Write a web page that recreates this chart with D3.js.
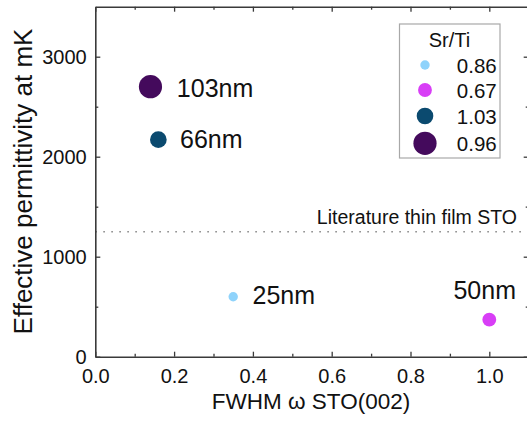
<!DOCTYPE html>
<html>
<head>
<meta charset="utf-8">
<script src="https://cdn.jsdelivr.net/npm/d3@7"></script>
<style>
  body { margin: 0; background: #fff; }
  svg text { font-family: Arial, "Liberation Sans", sans-serif; fill: #111; }
  .axis path, .axis line { stroke: #3a3a3a; }
</style>
</head>
<body>
<svg id="chart" width="527" height="427"></svg>
<script>
// values
var fwhm = [0.14, 0.16, 0.35, 1.0];
var permittivity = [2700, 2170, 600, 370];
var thickness = [103, 66, 25, 50];
var srTi = ["0.96", "1.03", "0.86", "0.67"];
var pointLabels = ["103nm", "66nm", "25nm", "50nm"];
var legendOrder = ["0.86", "0.67", "1.03", "0.96"];
var legendColors = ["#8fd3fb", "#d83ef6", "#0b4a6f", "#440a5c"];
var literatureValue = 1250;
var xMajor = [0, 0.2, 0.4, 0.6, 0.8, 1.0];
var xMinor = [0.1, 0.3, 0.5, 0.7, 0.9];
var yMajor = [0, 1000, 2000, 3000];
var yMinor = [500, 1500, 2500];

var svg = d3.select("#chart");
var margin = {top: 6.7, left: 95.3},
  width = 433.4,
  height = 350;

var x = d3.scaleLinear().domain([0, 1.1]).range([0, width]);
var y = d3.scaleLinear().domain([0, 3500]).range([height, 0]);
var r = d3.scaleLinear().domain([25, 103]).range([4.7, 11.6]);
var color = d3.scaleOrdinal().domain(legendOrder).range(legendColors);

var g = svg.append("g").attr("transform", "translate(" + margin.left + "," + margin.top + ")");

// literature reference line
g.append("line")
  .attr("x1", 0).attr("x2", width)
  .attr("y1", y(literatureValue)).attr("y2", y(literatureValue))
  .attr("stroke", "#8a8a8a")
  .attr("stroke-width", 1.6)
  .attr("stroke-dasharray", "1.6,6.4");
g.append("text")
  .attr("x", 421.7).attr("y", y(literatureValue) - 7.5)
  .attr("text-anchor", "end")
  .style("font-size", "19.5px")
  .text("Literature thin film STO");

// axes, ticks pointing inward
function styleAxis(sel) {
  sel.attr("class", "axis");
  sel.select(".domain").attr("stroke-width", 1.6);
  sel.selectAll(".tick line").attr("stroke-width", 1.3);
}

var xAxis = g.append("g").attr("transform", "translate(0," + height + ")")
  .call(d3.axisBottom(x).tickValues(xMajor).tickSize(-5).tickSizeOuter(0).tickPadding(12).tickFormat(d3.format(".1f")));
xAxis.call(styleAxis);
xAxis.selectAll("text").style("font-size", "20px");
g.append("g").attr("transform", "translate(0," + height + ")")
  .call(d3.axisBottom(x).tickValues(xMinor).tickSize(-3).tickFormat(""))
  .call(styleAxis).select(".domain").remove();

var yAxis = g.append("g")
  .call(d3.axisLeft(y).tickValues(yMajor).tickSize(-5).tickSizeOuter(0).tickPadding(8.6).tickFormat(d3.format("d")));
yAxis.call(styleAxis);
yAxis.selectAll("text").style("font-size", "20px");
g.append("g")
  .call(d3.axisLeft(y).tickValues(yMinor).tickSize(-3).tickFormat(""))
  .call(styleAxis).select(".domain").remove();

g.append("g")
  .call(d3.axisTop(x).tickValues(xMajor).tickSize(-5).tickSizeOuter(0).tickFormat(""))
  .call(styleAxis);
g.append("g")
  .call(d3.axisTop(x).tickValues(xMinor).tickSize(-3).tickFormat(""))
  .call(styleAxis).select(".domain").remove();
g.append("g").attr("transform", "translate(" + width + ",0)")
  .call(d3.axisRight(y).tickValues(yMajor).tickSize(-5).tickSizeOuter(0).tickFormat(""))
  .call(styleAxis);
g.append("g").attr("transform", "translate(" + width + ",0)")
  .call(d3.axisRight(y).tickValues(yMinor).tickSize(-3).tickFormat(""))
  .call(styleAxis).select(".domain").remove();

// axis titles
svg.append("text")
  .attr("x", 311).attr("y", 409)
  .attr("text-anchor", "middle")
  .style("font-size", "22.5px")
  .text("FWHM \u03c9 STO(002)");
svg.append("text")
  .attr("transform", "translate(31.5,181.5) rotate(-90)")
  .attr("text-anchor", "middle")
  .style("font-size", "26px")
  .text("Effective permittivity at mK");

// points
var points = fwhm.map(function(d, i) {
  return {x: d, y: permittivity[i], t: thickness[i], s: srTi[i], label: pointLabels[i]};
});

g.selectAll("circle.pt")
  .data(points)
  .enter().append("circle")
  .attr("class", "pt")
  .attr("cx", function(d) { return x(d.x); })
  .attr("cy", function(d) { return y(d.y); })
  .attr("r", function(d) { return r(d.t); })
  .attr("fill", function(d) { return color(d.s); });

// label placement next to each point
var labelOffset = {
  "103nm": [26.4, 10, "start"],
  "66nm": [21.7, 8.3, "start"],
  "25nm": [19.3, 7.7, "start"],
  "50nm": [-4.6, -20.7, "middle"]
};
g.selectAll("text.lbl")
  .data(points)
  .enter().append("text")
  .attr("class", "lbl")
  .attr("x", function(d) { return x(d.x) + labelOffset[d.label][0]; })
  .attr("y", function(d) { return y(d.y) + labelOffset[d.label][1]; })
  .attr("text-anchor", function(d) { return labelOffset[d.label][2]; })
  .style("font-size", "25px")
  .text(function(d) { return d.label; });

// legend
var legendThickness = legendOrder.map(function(s) { return thickness[srTi.indexOf(s)]; });
var legend = svg.append("g").attr("transform", "translate(399.5,24)");
legend.append("rect")
  .attr("width", 100.5).attr("height", 134)
  .attr("fill", "#fff")
  .attr("stroke", "#a8a8a8")
  .attr("stroke-width", 1.2);
legend.append("text")
  .attr("x", 50).attr("y", 22.7)
  .attr("text-anchor", "middle")
  .style("font-size", "20px")
  .text("Sr/Ti");
var rows = [41, 66, 92, 119.3];
legendOrder.forEach(function(s, i) {
  legend.append("circle")
    .attr("cx", 25.5).attr("cy", rows[i])
    .attr("r", r(legendThickness[i]))
    .attr("fill", color(s));
  legend.append("text")
    .attr("x", 97.2).attr("y", rows[i] + 7.6)
    .attr("text-anchor", "end")
    .style("font-size", "20.5px")
    .text(s);
});
</script>
</body>
</html>
